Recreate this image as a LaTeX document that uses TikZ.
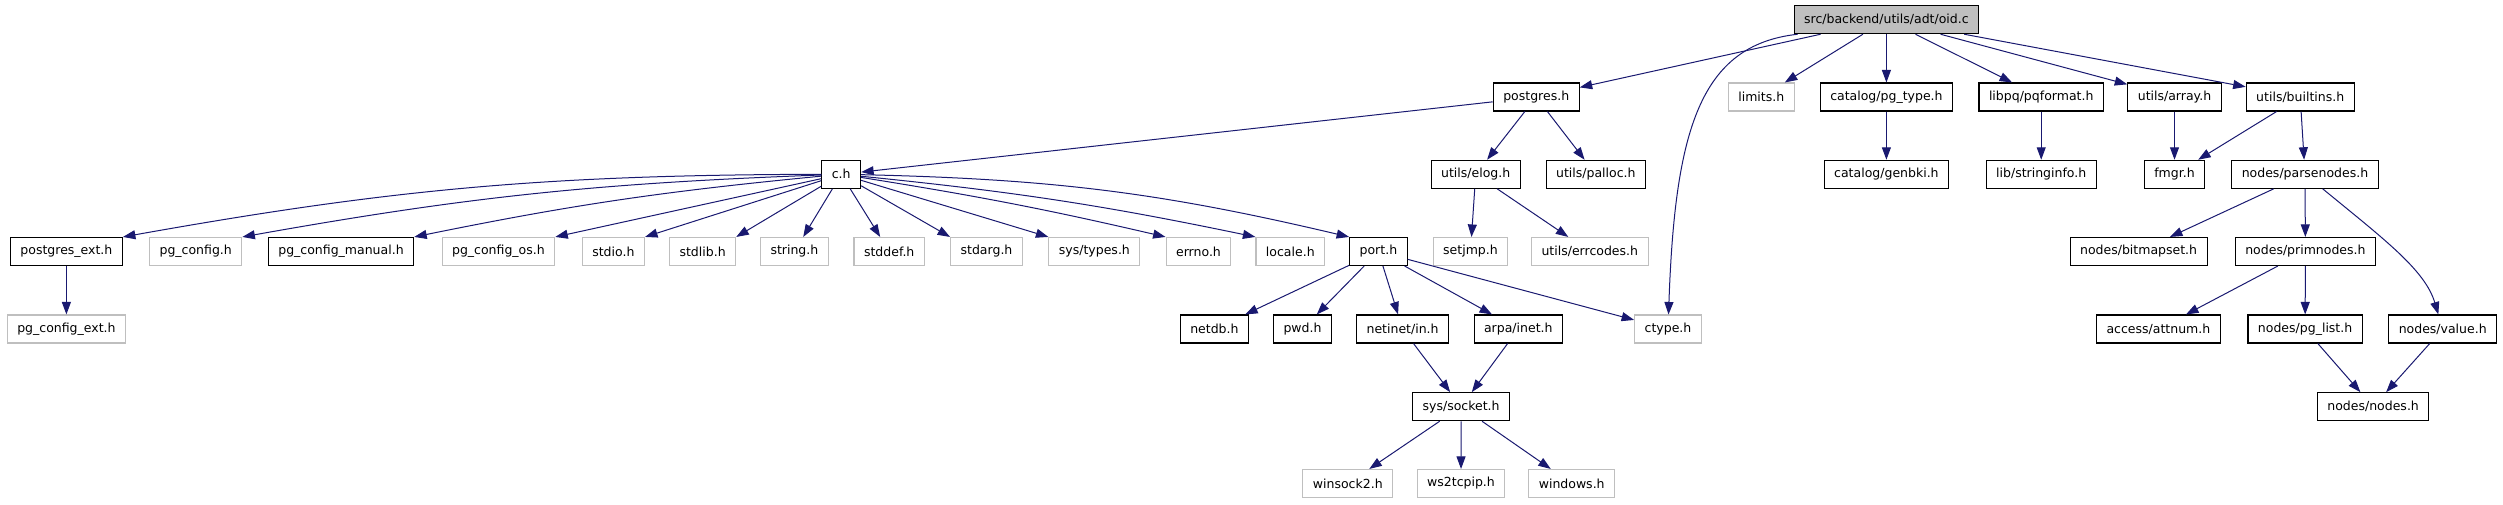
\documentclass[tikz,border=0pt]{standalone}
\usepackage{fontspec}
\setmainfont{DejaVu Sans}
\usetikzlibrary{arrows.meta}
\definecolor{incblue}{HTML}{191970}
\definecolor{sysgray}{HTML}{BFBFBF}
\tikzset{
  hdr/.style={draw=black, line width=1.1pt, fill=white, minimum height=28pt,
    inner xsep=10pt, inner ysep=0pt, font=\fontsize{12.5}{15}\selectfont},
  syshdr/.style={hdr, draw=sysgray},
  roothdr/.style={hdr, fill=sysgray},
  inc/.style={draw=incblue, line width=1pt, -{Triangle[length=12.5pt,width=9pt]}}
}
\begin{document}
\begin{tikzpicture}[x=1pt,y=-1pt]
\useasboundingbox (0,0) rectangle (2503,504);

\node[roothdr] (oid) at (1886.4,19.7) {src/backend/utils/adt/oid.c};

\node[hdr] (postgres) at (1536.2,97) {postgres.h};
\node[syshdr] (limits) at (1761.3,97) {limits.h};
\node[hdr] (pgtype) at (1886.4,97) {catalog/pg\_type.h};
\node[hdr] (pqformat) at (2041.2,97) {libpq/pqformat.h};
\node[hdr] (array) at (2174.5,97) {utils/array.h};
\node[hdr] (builtins) at (2300.2,97) {utils/builtins.h};

\node[hdr] (ch) at (841.2,174.3) {c.h};
\node[hdr] (elog) at (1475.7,174.3) {utils/elog.h};
\node[hdr] (palloc) at (1595.8,174.3) {utils/palloc.h};
\node[hdr] (genbki) at (1886.4,174.3) {catalog/genbki.h};
\node[hdr] (stringinfo) at (2041.2,174.3) {lib/stringinfo.h};
\node[hdr] (fmgr) at (2174.5,174.3) {fmgr.h};
\node[hdr] (parsenodes) at (2305,174.3) {nodes/parsenodes.h};

\node[hdr] (postgresext) at (66.4,251.5) {postgres\_ext.h};
\node[syshdr] (pgconfig) at (195.7,251.5) {pg\_config.h};
\node[hdr] (pgconfigmanual) at (341,251.5) {pg\_config\_manual.h};
\node[syshdr] (pgconfigos) at (498.4,251.5) {pg\_config\_os.h};
\node[syshdr] (stdio) at (613.4,251.5) {stdio.h};
\node[syshdr] (stdlib) at (702.6,251.5) {stdlib.h};
\node[syshdr] (string) at (794.4,251.5) {string.h};
\node[syshdr] (stddef) at (889.2,251.5) {stddef.h};
\node[syshdr] (stdarg) at (986.5,251.5) {stdarg.h};
\node[syshdr] (systypes) at (1094.4,251.5) {sys/types.h};
\node[syshdr] (errno) at (1198.5,251.5) {errno.h};
\node[syshdr] (locale) at (1290.3,251.5) {locale.h};
\node[hdr] (port) at (1378.4,251.5) {port.h};
\node[syshdr] (setjmp) at (1470.5,251.5) {setjmp.h};
\node[syshdr] (errcodes) at (1589.8,251.5) {utils/errcodes.h};
\node[hdr] (bitmapset) at (2138.6,251.5) {nodes/bitmapset.h};
\node[hdr] (primnodes) at (2305.4,251.5) {nodes/primnodes.h};

\node[syshdr] (pgconfigext) at (66.4,329) {pg\_config\_ext.h};
\node[hdr] (netdb) at (1214.4,329) {netdb.h};
\node[hdr] (pwd) at (1302.5,329) {pwd.h};
\node[hdr] (netinetin) at (1402.6,329) {netinet/in.h};
\node[hdr] (arpainet) at (1518.3,329) {arpa/inet.h};
\node[syshdr] (ctype) at (1668,329) {ctype.h};
\node[hdr] (attnum) at (2158.4,329) {access/attnum.h};
\node[hdr] (pglist) at (2305.1,329) {nodes/pg\_list.h};
\node[hdr] (value) at (2442.7,329) {nodes/value.h};

\node[hdr] (syssocket) at (1461.1,406.7) {sys/socket.h};
\node[hdr] (nodes) at (2373.1,406.7) {nodes/nodes.h};

\node[syshdr] (winsock) at (1347.8,483.5) {winsock2.h};
\node[syshdr] (wstcpip) at (1461,483.5) {ws2tcpip.h};
\node[syshdr] (windows) at (1571.7,483.5) {windows.h};

\draw[inc] (oid) -- (postgres);
\draw[inc] ([xshift=4pt]oid.south west) .. controls (1700,45) and (1675,130) .. (ctype);
\draw[inc] (oid) -- (limits);
\draw[inc] (oid) -- (pgtype);
\draw[inc] (oid) -- (pqformat);
\draw[inc] (oid) -- (array);
\draw[inc] (oid) -- (builtins);

\draw[inc] (postgres) -- (ch);
\draw[inc] (postgres) -- (elog);
\draw[inc] (postgres) -- (palloc);

\draw[inc] (ch) to[bend right=5] (postgresext.north east);
\draw[inc] (ch) to[bend right=4] (pgconfig.north east);
\draw[inc] (ch) to[bend right=3] (pgconfigmanual.north east);
\draw[inc] (ch) -- (pgconfigos.north east);
\draw[inc] (ch) -- (stdio.north east);
\draw[inc] (ch) -- (stdlib.north east);
\draw[inc] (ch) -- (string);
\draw[inc] (ch) -- (stddef);
\draw[inc] (ch) -- (stdarg.north west);
\draw[inc] (ch) -- (systypes.north west);
\draw[inc] (ch) to[bend left=2] (errno.north west);
\draw[inc] (ch) to[bend left=3] (locale.north west);
\draw[inc] (ch) to[bend left=6] (port.north west);

\draw[inc] (postgresext) -- (pgconfigext);
\draw[inc] (elog) -- (setjmp);
\draw[inc] (elog) -- (errcodes);

\draw[inc] (port) -- (netdb);
\draw[inc] (port) -- (pwd);
\draw[inc] (port) -- (netinetin);
\draw[inc] (port) -- (arpainet);
\draw[inc] (port) -- (ctype);
\draw[inc] (netinetin) -- (syssocket);
\draw[inc] (arpainet) -- (syssocket);
\draw[inc] (syssocket) -- (winsock);
\draw[inc] (syssocket) -- (wstcpip);
\draw[inc] (syssocket) -- (windows);

\draw[inc] (pgtype) -- (genbki);
\draw[inc] (pqformat) -- (stringinfo);
\draw[inc] (array) -- (fmgr);
\draw[inc] (builtins) -- (fmgr);
\draw[inc] (builtins) -- (parsenodes);
\draw[inc] (parsenodes) -- (bitmapset);
\draw[inc] (parsenodes) -- (primnodes);
\draw[inc] (parsenodes) .. controls (2385,240) and (2425,270) .. (value);
\draw[inc] (primnodes) -- (attnum);
\draw[inc] (primnodes) -- (pglist);
\draw[inc] (pglist) -- (nodes);
\draw[inc] (value) -- (nodes);
\end{tikzpicture}
\end{document}
